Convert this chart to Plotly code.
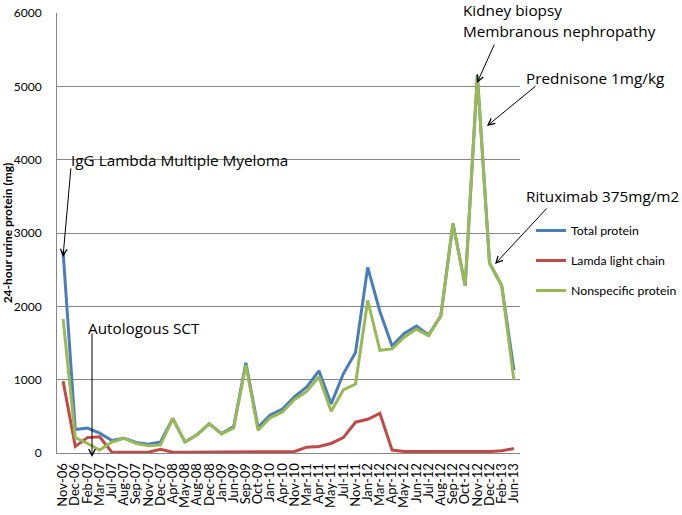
import plotly.graph_objects as go

months = ["Nov-06","Dec-06","Feb-07","Mar-07","Jul-07","Aug-07","Sep-07","Nov-07","Dec-07",
          "Apr-08","May-08","Aug-08","Dec-08","Jan-09","Jun-09","Sep-09","Oct-09","Jan-10",
          "Apr-10","Nov-10","Mar-11","Apr-11","May-11","Jul-11","Nov-11","Jan-12","Mar-12",
          "Apr-12","May-12","Jun-12","Jul-12","Aug-12","Sep-12","Oct-12","Nov-12","Dec-12",
          "Feb-13","Jun-13"]

total_protein = [2750, 320, 340, 270, 170, 200, 145, 120, 150, 470, 150, 250, 400, 265, 360,
                 1230, 350, 520, 600, 770, 900, 1120, 670, 1080, 1370, 2530, 1930, 1460, 1630,
                 1730, 1610, 1870, 3130, 2280, 5150, 2590, 2280, 1130]

lambda_chain = [980, 90, 210, 220, 10, 10, 10, 10, 50, 10, 10, 10, 10, 10, 10,
                10, 20, 20, 10, 20, 80, 90, 130, 210, 420, 460, 540, 40, 20,
                20, 20, 10, 10, 10, 20, 20, 30, 60]

nonspecific = [1830, 210, 130, 40, 150, 200, 130, 100, 110, 470, 150, 250, 400, 260, 340,
               1200, 310, 480, 560, 730, 840, 1040, 570, 860, 940, 2080, 1400, 1420, 1580,
               1690, 1600, 1870, 3130, 2280, 5150, 2590, 2280, 990]

series_names = ["Total protein", "Lamda light chain", "Nonspecific protein"]
series_colors = ["#4a7ebb", "#be4b48", "#98b954"]

FONT = "Lato"
AFONT = "Open Sans"

# plot area in pixels
W, H = 682, 515
L, R, T, B = 57, 520, 13, 453


def px(x, y):
    return (x - L) / (R - L), (B - y) / (B - T)


fig = go.Figure()
for name, vals, col in zip(series_names, [total_protein, lambda_chain, nonspecific], series_colors):
    fig.add_trace(go.Scatter(x=months, y=vals, mode="lines", name=name,
                             line=dict(color=col, width=3), legendgroup=name))

texts = [
    ("IgG Lambda Multiple Myeloma", 70, 160),
    ("Autologous SCT", 87, 328),
    ("Kidney biopsy", 462, 10),
    ("Membranous nephropathy", 462, 31),
    ("Prednisone 1mg/kg", 525, 78),
    ("Rituximab 375mg/m2", 525, 196),
]
annotations = []
for t, x, y in texts:
    xp, yp = px(x, y)
    annotations.append(dict(text=t, x=xp, y=yp, xref="paper", yref="paper",
                            xanchor="left", yanchor="middle", showarrow=False,
                            borderpad=0,
                            font=dict(family=AFONT, size=15.3, color="#000000")))

arrows = [
    ((71, 167), (63, 257)),
    ((92, 332), (92, 457)),
    ((495, 43), (477, 83)),
    ((537, 85), (487, 126)),
    ((548, 207), (495, 264)),
]
for (tx, ty), (hx, hy) in arrows:
    xp, yp = px(hx, hy)
    annotations.append(dict(text="", x=xp, y=yp, xref="paper", yref="paper",
                            ax=tx - hx, ay=ty - hy, showarrow=True, arrowhead=5,
                            arrowsize=1.3, arrowwidth=1, arrowcolor="#000000"))

fig.update_layout(
    width=W, height=H,
    margin=dict(l=L, r=W - R, t=T, b=H - B, autoexpand=False),
    paper_bgcolor="white", plot_bgcolor="white",
    showlegend=True,
    legend=dict(x=px(531, 0)[0], y=px(0, 216)[1], xanchor="left", yanchor="top",
                font=dict(family=FONT, size=12.3, color="#000000"),
                traceorder="grouped", tracegroupgap=11, itemwidth=30,
                bgcolor="rgba(0,0,0,0)"),
    annotations=annotations,
    font=dict(family=FONT, color="#000000"),
)
fig.update_xaxes(type="category", range=[-0.5, len(months) - 0.5], tickangle=-90,
                 tickmode="array", tickvals=months, ticktext=months,
                 tickfont=dict(family=FONT, size=13, color="#000000"),
                 showgrid=False, showline=True, linecolor="#868686", linewidth=1,
                 ticks="", ticklabelstandoff=4, automargin=False)
fig.update_yaxes(range=[0, 6000], dtick=1000, tickformat="d",
                 tickfont=dict(family=FONT, size=12, color="#000000"),
                 showgrid=True, gridcolor="#868686", gridwidth=1,
                 showline=True, linecolor="#868686", linewidth=1, zeroline=False,
                 ticks="", ticklabelstandoff=12, automargin=False,
                 title=dict(text="<b>24-hour urine protein (mg)</b>",
                            font=dict(family=FONT, size=12, color="#000000")))

fig.write_html("out.html", config={"displayModeBar": False},
               post_script="document.body.style.margin='0px';")
